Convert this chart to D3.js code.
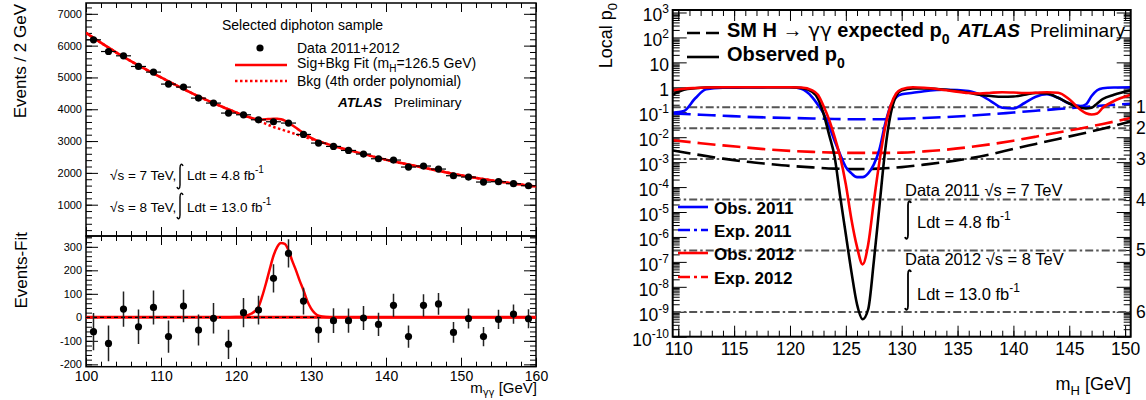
<!DOCTYPE html>
<html lang="en">
<head>
<meta charset="utf-8">
<title>ATLAS H to gamma gamma</title>
<script src="https://d3js.org/d3.v7.min.js"></script>
<style type="text/css">
body { margin: 0; background: #fff; }
text { font-family: "Liberation Sans", Arial, Helvetica, sans-serif; fill: #000; }
.greek { font-family: "DejaVu Sans", sans-serif; }
</style>
</head>
<body>
<div id="chart"></div>
<script type="text/javascript">
//Width and height
var w = 1146;
var h = 400;

// ---- left: diphoton mass spectrum (2 GeV bins) ----
var binCenters = [101,103,105,107,109,111,113,115,117,119,121,123,125,127,129,
                  131,133,135,137,139,141,143,145,147,149,151,153,155,157,159];
var events = [6183,5815,5680,5345,5168,4791,4697,4351,4194,3880,3826,3669,3607,3566,3208,
              2937,2831,2705,2592,2444,2403,2183,2215,2120,1910,1869,1712,1722,1659,1596];
var eventErr = [79,76,75,73,72,69,69,66,65,62,62,61,60,60,57,
                54,53,52,51,49,49,47,47,46,44,43,41,41,41,40];
var residuals = [-61,-111,35,-40,42,-82,48,-54,-4,-115,20,31,166,272,69,
                 -54,-14,-14,-3,-30,51,-82,51,57,-64,-5,-82,-9,14,-6];

var fitMass = [100,105,110,115,118,120,121,122,123,123.5,124,124.5,125,125.5,126,126.5,
               127,127.5,128,128.5,129,129.5,130,130.5,131,132,133,135,140,145,150,155,160];
var bkgFit = [6400,5645,5000,4405,4095,3900,3806,3720,3638,3590,3540,3490,3441,3405,3368,3330,
              3294,3255,3216,3177,3139,3102,3065,3028,2991,2918,2845,2719,2413,2164,1924,1731,1570];
var sigFit = [0,0,0,0,0,1,5,15,45,90,145,205,262,300,316,312,
              285,240,200,155,115,70,38,18,7,1,0,0,0,0,0,0,0];

var massTicks = [100,110,120,130,140,150,160];
var eventTicks = [1000,2000,3000,4000,5000,6000,7000];
var residTicks = [-200,-100,0,100,200,300];

// ---- right: local p0 (values are log10 p0) ----
var expMass = [109.5,112,114,116,118,120,122,124,126,128,130,132,134,136,138,140,142,144,146,148,150.5];
var expComb = [-2.53,-2.72,-2.86,-2.98,-3.07,-3.15,-3.21,-3.26,-3.28,-3.26,-3.2,-3.1,-2.99,-2.85,-2.68,-2.47,-2.27,-2.07,-1.87,-1.66,-1.37];
var exp2012 = [-2.12,-2.24,-2.33,-2.41,-2.49,-2.55,-2.59,-2.62,-2.63,-2.63,-2.62,-2.57,-2.5,-2.4,-2.28,-2.14,-1.98,-1.81,-1.65,-1.47,-1.23];
var exp2011 = [-1.05,-1.1,-1.14,-1.18,-1.21,-1.23,-1.25,-1.27,-1.28,-1.28,-1.26,-1.23,-1.19,-1.14,-1.08,-1.01,-0.94,-0.87,-0.8,-0.73,-0.66];

var obsMass = [109.5,110.5,111.5,112.5,114,116,118,120,121,122,122.5,123,123.5,124,124.5,125,125.5,126,126.5,127,
               127.5,128,128.5,129,129.5,130,131,132,134,136,137,138,139,140,141,142,143,144,145,146,146.5,147,147.5,148,149,150.5];
var obsComb = [-0.29,-0.1,-0.04,-0.01,0,0,0,0,-0.03,-0.18,-0.45,-1.05,-1.9,-2.8,-4.4,-5.9,-7.4,-8.7,-9.3,-8.9,
               -7.0,-4.8,-2.6,-1.1,-0.35,-0.12,-0.05,-0.05,-0.1,-0.22,-0.3,-0.35,-0.38,-0.37,-0.3,-0.23,-0.25,-0.42,-0.65,-0.82,-0.85,-0.82,-0.65,-0.47,-0.3,-0.12];
var obs2012 = [-0.12,-0.06,-0.03,-0.01,0,0,0,0,-0.01,-0.12,-0.3,-0.75,-1.3,-2.0,-2.8,-3.9,-5.3,-6.4,-7.1,-6.3,
               -4.6,-3.0,-1.65,-0.75,-0.25,-0.08,0,-0.02,-0.12,-0.23,-0.25,-0.22,-0.2,-0.21,-0.23,-0.22,-0.2,-0.22,-0.48,-0.9,-1.04,-1.09,-1.05,-0.82,-0.55,-0.3];
var obs2011 = [-1.02,-0.95,-0.45,-0.08,-0.02,-0.01,0,0,-0.06,-0.4,-0.7,-1.05,-1.55,-2.15,-2.7,-3.2,-3.45,-3.6,-3.6,-3.45,
               -3.1,-2.5,-1.5,-0.75,-0.4,-0.28,-0.22,-0.16,-0.1,-0.15,-0.3,-0.56,-0.82,-0.85,-0.63,-0.38,-0.28,-0.42,-0.65,-0.75,-0.68,-0.35,-0.12,-0.04,-0.01,0];

var sigmaP = [1.587e-1, 2.275e-2, 1.35e-3, 3.17e-5, 2.87e-7, 9.87e-10];
var sigmaLabels = ["1σ","2σ","3σ","4σ","5σ","6σ"];
var mhTicks = [110,115,120,125,130,135,140,145,150];
var decades = [-10,-9,-8,-7,-6,-5,-4,-3,-2,-1,0,1,2,3];

//Create SVG element
var svg = d3.select("div#chart")
      .append("svg")
      .attr("width", w)
      .attr("height", h);

// ================= left panel =================
var xL = d3.scaleLinear().domain([100, 160]).range([86, 536]);
var yTop = d3.scaleLinear().domain([0, 7340]).range([236.5, 3]);
var yRes = d3.scaleLinear().domain([-210, 346]).range([366.7, 236]);

var defs = svg.append("defs");
defs.append("clipPath").attr("id", "clipTop").append("rect")
  .attr("x", 86).attr("y", 3).attr("width", 450).attr("height", 233);
defs.append("clipPath").attr("id", "clipRes").append("rect")
  .attr("x", 86).attr("y", 236).attr("width", 450).attr("height", 130.7);
defs.append("clipPath").attr("id", "clipP").append("rect")
  .attr("x", 672.7).attr("y", 10).attr("width", 458).attr("height", 326.7);

function styleAxis(g, size) {
  g.select(".domain").remove();
  g.selectAll("line").attr("stroke", "#000").attr("stroke-width", 1);
  g.selectAll("text").attr("font-size", size).attr("font-family", null);
}

function addAxis(axis, tx, ty, size) {
  svg.append("g")
    .attr("transform", "translate(" + tx + "," + ty + ")")
    .call(axis)
    .call(function(g) { styleAxis(g, size); });
}

// x axes of left panels (ticks inward)
var xMinorL = d3.range(100, 161, 2);
addAxis(d3.axisBottom(xL).tickValues(massTicks).tickSize(-9).tickPadding(4).tickFormat(d3.format("d")), 0, 366.7, 14);
addAxis(d3.axisBottom(xL).tickValues(xMinorL).tickSize(-5).tickFormat(""), 0, 366.7, 0);
addAxis(d3.axisTop(xL).tickValues(massTicks).tickSize(-9).tickFormat(""), 0, 3, 0);
addAxis(d3.axisTop(xL).tickValues(xMinorL).tickSize(-5).tickFormat(""), 0, 3, 0);
addAxis(d3.axisBottom(xL).tickValues(massTicks).tickSize(-9).tickFormat(""), 0, 236, 0);
addAxis(d3.axisBottom(xL).tickValues(xMinorL).tickSize(-5).tickFormat(""), 0, 236, 0);
addAxis(d3.axisTop(xL).tickValues(massTicks).tickSize(-9).tickFormat(""), 0, 236, 0);
addAxis(d3.axisTop(xL).tickValues(xMinorL).tickSize(-5).tickFormat(""), 0, 236, 0);

// y axes top panel
var yMinorTop = d3.range(0, 7340, 200);
addAxis(d3.axisLeft(yTop).tickValues(eventTicks).tickSize(-12).tickPadding(4).tickFormat(d3.format("d")), 86, 0, 11);
addAxis(d3.axisLeft(yTop).tickValues(yMinorTop).tickSize(-6).tickFormat(""), 86, 0, 0);
addAxis(d3.axisRight(yTop).tickValues(eventTicks).tickSize(-12).tickFormat(""), 536, 0, 0);
addAxis(d3.axisRight(yTop).tickValues(yMinorTop).tickSize(-6).tickFormat(""), 536, 0, 0);

// y axes residual panel
var yMinorRes = d3.range(-200, 346, 20);
addAxis(d3.axisLeft(yRes).tickValues(residTicks).tickSize(-12).tickPadding(4).tickFormat(function(d) { return String(d); }), 86, 0, 11);
addAxis(d3.axisLeft(yRes).tickValues(yMinorRes).tickSize(-6).tickFormat(""), 86, 0, 0);
addAxis(d3.axisRight(yRes).tickValues(residTicks).tickSize(-12).tickFormat(""), 536, 0, 0);
addAxis(d3.axisRight(yRes).tickValues(yMinorRes).tickSize(-6).tickFormat(""), 536, 0, 0);

// frames
svg.append("rect").attr("x", 86).attr("y", 3).attr("width", 450).attr("height", 233)
  .attr("fill", "none").attr("stroke", "#000").attr("stroke-width", 1.5);
svg.append("rect").attr("x", 86).attr("y", 236).attr("width", 450).attr("height", 130.7)
  .attr("fill", "none").attr("stroke", "#000").attr("stroke-width", 1.5);

// fit curves (top)
var fitLine = d3.line()
  .x(function(d) { return xL(d[0]); })
  .y(function(d) { return yTop(d[1]); })
  .curve(d3.curveMonotoneX);

var gTop = svg.append("g").attr("clip-path", "url(#clipTop)");
gTop.append("path")
  .datum(fitMass.map(function(m, i) { return [m, bkgFit[i]]; }))
  .attr("d", fitLine)
  .attr("fill", "none").attr("stroke", "#ff0000").attr("stroke-width", 2.5)
  .attr("stroke-dasharray", "2.5,2.5");
gTop.append("path")
  .datum(fitMass.map(function(m, i) { return [m, bkgFit[i] + sigFit[i]]; }))
  .attr("d", fitLine)
  .attr("fill", "none").attr("stroke", "#ff0000").attr("stroke-width", 2.5);

// data points (top)
var pts = binCenters.map(function(m, i) { return {m: m, v: events[i], e: eventErr[i], r: residuals[i]}; });
gTop.selectAll("line.hbar").data(pts).enter().append("line")
  .attr("x1", function(d) { return xL(d.m - 1); })
  .attr("x2", function(d) { return xL(d.m + 1); })
  .attr("y1", function(d) { return yTop(d.v); })
  .attr("y2", function(d) { return yTop(d.v); })
  .attr("stroke", "#000").attr("stroke-width", 1.2);
gTop.selectAll("line.vbar").data(pts).enter().append("line")
  .attr("x1", function(d) { return xL(d.m); })
  .attr("x2", function(d) { return xL(d.m); })
  .attr("y1", function(d) { return yTop(d.v - d.e); })
  .attr("y2", function(d) { return yTop(d.v + d.e); })
  .attr("stroke", "#000").attr("stroke-width", 1.2);
gTop.selectAll("circle").data(pts).enter().append("circle")
  .attr("cx", function(d) { return xL(d.m); })
  .attr("cy", function(d) { return yTop(d.v); })
  .attr("r", 3.6).attr("fill", "#000");

// residual panel
var gRes = svg.append("g").attr("clip-path", "url(#clipRes)");
gRes.append("line")
  .attr("x1", xL(100)).attr("x2", xL(160)).attr("y1", yRes(0)).attr("y2", yRes(0))
  .attr("stroke", "#ff0000").attr("stroke-width", 3);
gRes.append("line")
  .attr("x1", xL(100)).attr("x2", xL(160)).attr("y1", yRes(0)).attr("y2", yRes(0))
  .attr("stroke", "#000").attr("stroke-width", 1.2).attr("stroke-dasharray", "4,3");
var sigLine = d3.line()
  .x(function(d) { return xL(d[0]); })
  .y(function(d) { return yRes(d[1]); })
  .curve(d3.curveMonotoneX);
gRes.append("path")
  .datum(fitMass.map(function(m, i) { return [m, sigFit[i]]; }).filter(function(d) { return d[0] >= 118; }))
  .attr("d", sigLine)
  .attr("fill", "none").attr("stroke", "#ff0000").attr("stroke-width", 2.5);
gRes.selectAll("line.err").data(pts).enter().append("line")
  .attr("x1", function(d) { return xL(d.m); })
  .attr("x2", function(d) { return xL(d.m); })
  .attr("y1", function(d) { return yRes(d.r - d.e); })
  .attr("y2", function(d) { return yRes(d.r + d.e); })
  .attr("stroke", "#222").attr("stroke-width", 1.5);
gRes.selectAll("circle").data(pts).enter().append("circle")
  .attr("cx", function(d) { return xL(d.m); })
  .attr("cy", function(d) { return yRes(d.r); })
  .attr("r", 3.6).attr("fill", "#000");

// integral sign
function integral(x, y0, y1, sw) {
  svg.append("path")
    .attr("d", "M" + (x + 5) + "," + (y0 + 2) + " C" + (x + 4) + "," + (y0 - 1) + " " + (x + 2) + "," + y0 + " " + (x + 2) + "," + (y0 + 4) +
               " L" + (x + 2) + "," + (y1 - 4) + " C" + (x + 2) + "," + y1 + " " + x + "," + (y1 + 1) + " " + (x - 1) + "," + (y1 - 2))
    .attr("fill", "none").attr("stroke", "#000").attr("stroke-width", sw);
}

// left titles and legend
svg.append("text").attr("transform", "translate(26,4) rotate(-90)")
  .attr("text-anchor", "end").attr("font-size", 17).text("Events / 2 GeV");
svg.append("text").attr("transform", "translate(27,232) rotate(-90)")
  .attr("text-anchor", "end").attr("font-size", 17).text("Events-Fit");
var mt = svg.append("text").attr("x", 537).attr("y", 393).attr("text-anchor", "end").attr("font-size", 15);
mt.append("tspan").text("m");
mt.append("tspan").attr("dy", 3).attr("font-size", 10).attr("class", "greek").text("γγ");
mt.append("tspan").attr("dy", -3).text(" [GeV]");

svg.append("text").attr("x", 222).attr("y", 30).attr("font-size", 14).text("Selected diphoton sample");
svg.append("circle").attr("cx", 260).attr("cy", 48).attr("r", 3.6).attr("fill", "#000");
svg.append("text").attr("x", 297).attr("y", 53).attr("font-size", 14).text("Data 2011+2012");
svg.append("line").attr("x1", 235).attr("x2", 287).attr("y1", 65).attr("y2", 65)
  .attr("stroke", "#ff0000").attr("stroke-width", 2.5);
var sf = svg.append("text").attr("x", 297).attr("y", 68).attr("font-size", 14);
sf.append("tspan").text("Sig+Bkg Fit (m");
sf.append("tspan").attr("dy", 4).attr("font-size", 10).text("H");
sf.append("tspan").attr("dy", -4).text("=126.5 GeV)");
svg.append("line").attr("x1", 235).attr("x2", 287).attr("y1", 81).attr("y2", 81)
  .attr("stroke", "#ff0000").attr("stroke-width", 2.5).attr("stroke-dasharray", "2.5,2.5");
svg.append("text").attr("x", 297).attr("y", 86).attr("font-size", 14).text("Bkg (4th order polynomial)");
svg.append("text").attr("x", 338).attr("y", 107).attr("font-size", 13.5)
  .attr("font-weight", "bold").attr("font-style", "italic").text("ATLAS");
svg.append("text").attr("x", 394).attr("y", 107).attr("font-size", 13.5).text("Preliminary");

svg.append("text").attr("x", 110).attr("y", 180).attr("font-size", 13.5).text("√s = 7 TeV,");
integral(178, 164, 189, 1.4);
var l1 = svg.append("text").attr("x", 187).attr("y", 180).attr("font-size", 13.5);
l1.append("tspan").text("Ldt = 4.8 fb");
l1.append("tspan").attr("dy", -7).attr("font-size", 10).text("-1");
svg.append("text").attr("x", 110).attr("y", 212).attr("font-size", 13.5).text("√s = 8 TeV,");
integral(178, 193, 219, 1.4);
var l2 = svg.append("text").attr("x", 187).attr("y", 212).attr("font-size", 13.5);
l2.append("tspan").text("Ldt = 13.0 fb");
l2.append("tspan").attr("dy", -7).attr("font-size", 10).text("-1");

// ================= right panel =================
var xR = d3.scaleLinear().domain([109.5, 150.5]).range([672.7, 1130.7]);
var yR = d3.scaleLog().domain([1e-10, Math.pow(10, 3.1)]).range([336.7, 10]);

var majorP = decades.map(function(k) { return Math.pow(10, k); });
var minorP = [];
decades.slice(0, -1).forEach(function(k) {
  for (var j = 2; j <= 9; j++) minorP.push(j * Math.pow(10, k));
});

addAxis(d3.axisBottom(xR).tickValues(mhTicks).tickSize(-11).tickPadding(6).tickFormat(d3.format("d")), 0, 336.7, 17.5);
addAxis(d3.axisBottom(xR).tickValues(d3.range(110, 151, 1)).tickSize(-6).tickFormat(""), 0, 336.7, 0);
addAxis(d3.axisTop(xR).tickValues(mhTicks).tickSize(-11).tickFormat(""), 0, 10, 0);
addAxis(d3.axisTop(xR).tickValues(d3.range(110, 151, 1)).tickSize(-6).tickFormat(""), 0, 10, 0);
addAxis(d3.axisLeft(yR).tickValues(majorP).tickSize(-14).tickFormat(""), 672.7, 0, 0);
addAxis(d3.axisLeft(yR).tickValues(minorP).tickSize(-7).tickFormat(""), 672.7, 0, 0);
addAxis(d3.axisRight(yR).tickValues(majorP).tickSize(-14).tickFormat(""), 1130.7, 0, 0);
addAxis(d3.axisRight(yR).tickValues(minorP).tickSize(-7).tickFormat(""), 1130.7, 0, 0);

// log tick labels
decades.forEach(function(k) {
  var t = svg.append("text").attr("x", 669).attr("y", yR(Math.pow(10, k)) + 9)
    .attr("text-anchor", "end").attr("font-size", 17.5);
  if (k === 0) { t.text("1"); }
  else if (k === 1) { t.text("10"); }
  else {
    t.append("tspan").text("10");
    t.append("tspan").attr("dy", -8).attr("font-size", 12).text(k);
  }
});

// sigma lines
var gP = svg.append("g").attr("clip-path", "url(#clipP)");
gP.selectAll("line.sig").data(sigmaP).enter().append("line")
  .attr("x1", xR(109.5)).attr("x2", xR(150.5))
  .attr("y1", function(d) { return yR(d); })
  .attr("y2", function(d) { return yR(d); })
  .attr("stroke", "#555").attr("stroke-width", 2).attr("stroke-dasharray", "8,3,2.5,3");
svg.selectAll("text.sigl").data(sigmaP).enter().append("text")
  .attr("x", 1136).attr("y", function(d) { return yR(d) + 6; })
  .attr("font-size", 17.5)
  .text(function(d, i) { return sigmaLabels[i]; });

var pLine = d3.line()
  .x(function(d) { return xR(d[0]); })
  .y(function(d) { return yR(Math.pow(10, d[1])); })
  .curve(d3.curveMonotoneX);

function drawP(mass, vals, color, dash) {
  var p = gP.append("path")
    .datum(d3.zip(mass, vals))
    .attr("d", pLine)
    .attr("fill", "none").attr("stroke", color).attr("stroke-width", 2.6)
    .attr("stroke-linejoin", "round");
  if (dash) p.attr("stroke-dasharray", dash);
}
drawP(expMass, exp2011, "#0000ff", "18,7");
drawP(expMass, exp2012, "#ff0000", "18,7");
drawP(expMass, expComb, "#000", "18,7");
drawP(obsMass, obs2011, "#0000ff", null);
drawP(obsMass, obsComb, "#000", null);
drawP(obsMass, obs2012, "#ff0000", null);

svg.append("rect").attr("x", 672.7).attr("y", 10).attr("width", 458).attr("height", 326.7)
  .attr("fill", "none").attr("stroke", "#000").attr("stroke-width", 2);

// right titles
var lp = svg.append("text").attr("transform", "translate(612,3) rotate(-90)")
  .attr("text-anchor", "end").attr("font-size", 18);
lp.append("tspan").text("Local p");
lp.append("tspan").attr("dy", 5).attr("font-size", 13).text("0");
var mh = svg.append("text").attr("x", 1131).attr("y", 390).attr("text-anchor", "end").attr("font-size", 18);
mh.append("tspan").text("m");
mh.append("tspan").attr("dy", 5).attr("font-size", 13).text("H");
mh.append("tspan").attr("dy", -5).text(" [GeV]");

// top legend
svg.append("line").attr("x1", 687).attr("x2", 719).attr("y1", 33).attr("y2", 33)
  .attr("stroke", "#000").attr("stroke-width", 2.6).attr("stroke-dasharray", "13,6");
var lg1 = svg.append("text").attr("x", 727).attr("y", 37).attr("font-size", 20).attr("font-weight", "bold");
lg1.append("tspan").text("SM H → ");
lg1.append("tspan").attr("class", "greek").attr("font-weight", "normal").text("γγ");
lg1.append("tspan").text(" expected p");
lg1.append("tspan").attr("dy", 7).attr("font-size", 14).text("0");
svg.append("line").attr("x1", 687).attr("x2", 719).attr("y1", 57).attr("y2", 57)
  .attr("stroke", "#000").attr("stroke-width", 2.6);
var lg2 = svg.append("text").attr("x", 727).attr("y", 61).attr("font-size", 20).attr("font-weight", "bold");
lg2.append("tspan").text("Observed p");
lg2.append("tspan").attr("dy", 7).attr("font-size", 14).text("0");
svg.append("text").attr("x", 958).attr("y", 37).attr("font-size", 19)
  .attr("font-weight", "bold").attr("font-style", "italic").text("ATLAS");
svg.append("text").attr("x", 1030).attr("y", 37).attr("font-size", 19).text("Preliminary");

// yearly legend
var yearRows = [
  {label: "Obs. 2011", color: "#0000ff", dash: null, y: 207},
  {label: "Exp. 2011", color: "#0000ff", dash: "12,4,3,4", y: 230},
  {label: "Obs. 2012", color: "#ff0000", dash: null, y: 253},
  {label: "Exp. 2012", color: "#ff0000", dash: "12,4,3,4", y: 277}
];
yearRows.forEach(function(r) {
  var l = svg.append("line").attr("x1", 678).attr("x2", 708).attr("y1", r.y).attr("y2", r.y)
    .attr("stroke", r.color).attr("stroke-width", 2.6);
  if (r.dash) l.attr("stroke-dasharray", r.dash);
  svg.append("text").attr("x", 714).attr("y", r.y + 7).attr("font-size", 17)
    .attr("font-weight", "bold").text(r.label);
});

// data-set labels
svg.append("text").attr("x", 905).attr("y", 196).attr("font-size", 16.5).text("Data 2011 √s = 7 TeV");
integral(906, 201, 239, 1.8);
var r1 = svg.append("text").attr("x", 917).attr("y", 228).attr("font-size", 16.5);
r1.append("tspan").text("Ldt = 4.8 fb");
r1.append("tspan").attr("dy", -8).attr("font-size", 12).text("-1");
svg.append("text").attr("x", 905).attr("y", 265).attr("font-size", 16.5).text("Data 2012 √s = 8 TeV");
integral(906, 270, 310, 1.8);
var r2 = svg.append("text").attr("x", 917).attr("y", 300).attr("font-size", 16.5);
r2.append("tspan").text("Ldt = 13.0 fb");
r2.append("tspan").attr("dy", -8).attr("font-size", 12).text("-1");
</script>
</body>
</html>
